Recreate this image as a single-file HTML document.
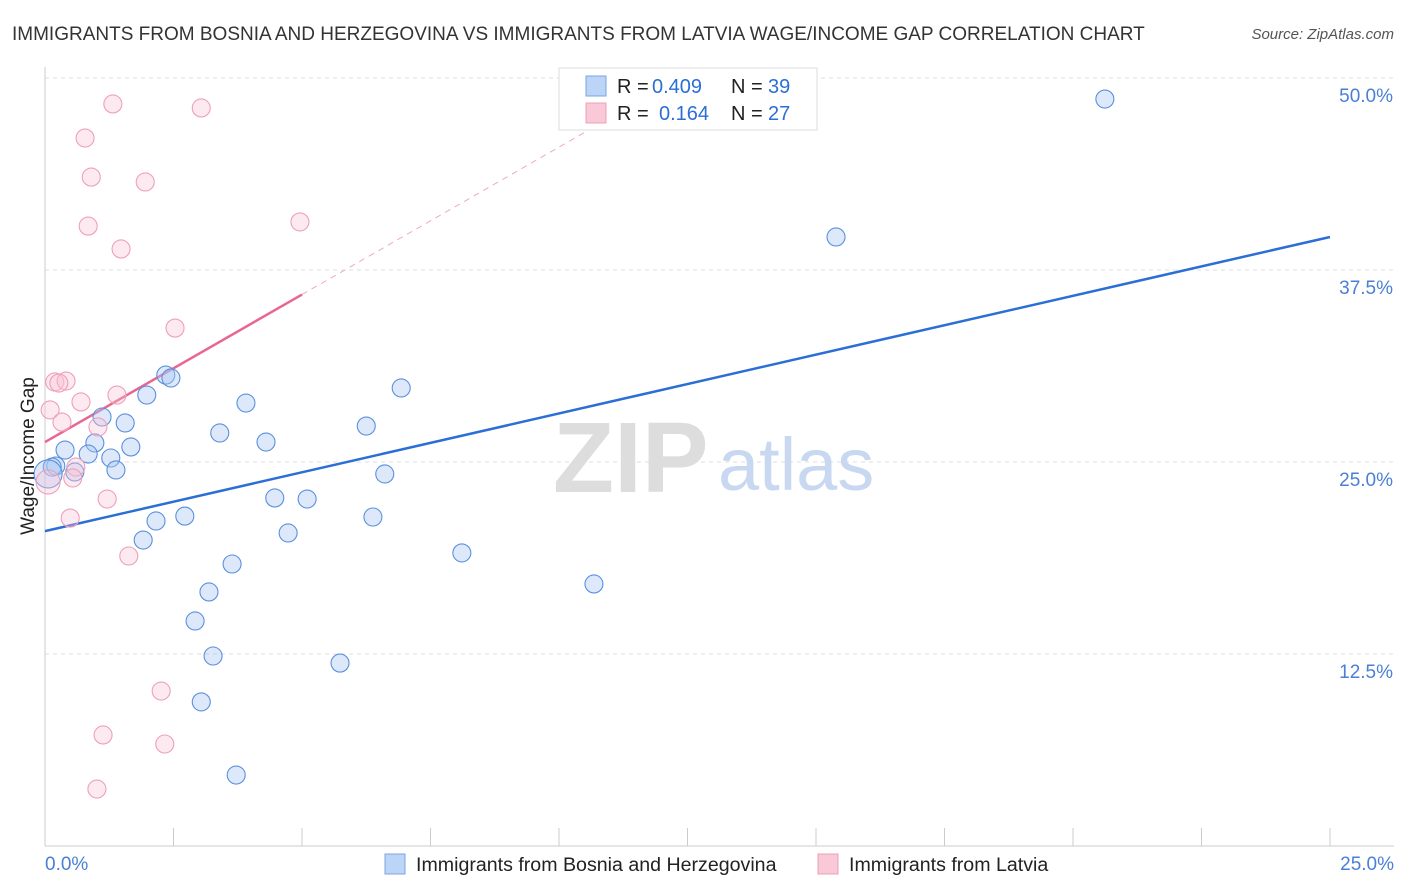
<!DOCTYPE html>
<html><head><meta charset="utf-8"><style>
body{margin:0;background:#fff;font-family:"Liberation Sans",sans-serif;overflow:hidden;}
svg{display:block;}
svg text{font-family:"Liberation Sans",sans-serif;}
</style></head><body>
<svg width="1406" height="892" xmlns="http://www.w3.org/2000/svg">
<text x="12" y="40" font-size="19" fill="#333">IMMIGRANTS FROM BOSNIA AND HERZEGOVINA VS IMMIGRANTS FROM LATVIA WAGE/INCOME GAP CORRELATION CHART</text>
<text x="1394" y="39" font-size="15" fill="#555" font-style="italic" text-anchor="end">Source: ZipAtlas.com</text>
<g id="grid"></g>
<g><text x="553" y="492" font-size="100" font-family="Liberation Serif" fill="#ddd" font-weight="bold">ZIP</text><text x="718" y="490" font-size="74" fill="#c8d8f0">atlas</text></g>
<g id="marks"></g>
<text transform="translate(34,456) rotate(-90)" font-size="19" fill="#222" text-anchor="middle">Wage/Income Gap</text>
<text x="45" y="870" font-size="19" fill="#4a7fd6">0.0%</text>
<text x="1394" y="870" font-size="19" fill="#4a7fd6" text-anchor="end">25.0%</text>
<g>
<rect x="559" y="68" width="258" height="62" fill="#fff" stroke="#ddd"/>
<rect x="586" y="76" width="20" height="20" fill="#bcd4f5" stroke="#7aa5e6"/>
<rect x="586" y="103" width="20" height="20" fill="#f9c9d8" stroke="#eea0b8"/>
<text x="617" y="93" font-size="20" fill="#222">R =</text>
<text x="652" y="93" font-size="20" fill="#2b6fd6">0.409</text>
<text x="731" y="93" font-size="20" fill="#222">N =</text>
<text x="768" y="93" font-size="20" fill="#2b6fd6">39</text>
<text x="617" y="120" font-size="20" fill="#222">R =</text>
<text x="659" y="120" font-size="20" fill="#2b6fd6">0.164</text>
<text x="731" y="120" font-size="20" fill="#222">N =</text>
<text x="768" y="120" font-size="20" fill="#2b6fd6">27</text>
</g>
<g>
<rect x="385" y="854" width="20" height="20" fill="#bcd4f5" stroke="#7aa5e6"/>
<text x="416" y="871" font-size="19.6" fill="#222">Immigrants from Bosnia and Herzegovina</text>
<rect x="818" y="854" width="20" height="20" fill="#f9c9d8" stroke="#eea0b8"/>
<text x="849" y="871" font-size="19.6" fill="#222">Immigrants from Latvia</text>
</g>
</svg>
<script>
const yTicks=[12.5,25,37.5,50];
const yTickLabels=["12.5%","25.0%","37.5%","50.0%"];
const xTicks=[0,2.5,5,7.5,10,12.5,15,17.5,20,22.5,25];
const blueX=[20.62,15.39,2.35,2.45,1.98,3.91,6.93,1.11,1.56,3.40,6.25,0.97,0.39,1.67,4.30,0.84,1.28,0.21,0.58,0.14,1.38,6.61,4.47,5.10,2.72,2.16,6.38,4.73,1.91,8.11,3.64,10.68,3.19,2.92,3.27,5.74,3.04,3.72,0.06];
const blueY=[48.63,39.65,30.66,30.47,29.36,28.84,29.82,27.93,27.54,26.89,27.34,26.24,25.78,25.98,26.30,25.52,25.26,24.74,24.35,24.67,24.48,24.22,22.66,22.59,21.48,21.16,21.42,20.38,19.92,19.08,18.36,17.06,16.54,14.65,12.37,11.91,9.38,4.62,24.22];
const pinkX=[1.32,3.04,0.78,0.9,1.95,0.84,4.96,1.48,2.53,0.19,0.41,0.27,1.4,0.7,0.1,0.33,1.03,0.6,0.54,0.06,1.21,0.49,1.63,2.26,1.13,2.33,1.01];
const pinkY=[48.31,48.05,46.09,43.55,43.23,40.36,40.63,38.87,33.72,30.21,30.27,30.14,29.36,28.91,28.39,27.6,27.28,24.67,23.96,23.7,22.59,21.35,18.88,10.09,7.23,6.64,3.71];
const blueFit=[20.5,0.766];
const pinkFit=[26.3,1.92];
const X=v=>45+v*51.4, Y=v=>846-v*15.36;
const NS="http://www.w3.org/2000/svg";
function mk(t,a,p){const e=document.createElementNS(NS,t);for(const k in a)e.setAttribute(k,a[k]);p.appendChild(e);return e;}
const grid=document.getElementById('grid'), marks=document.getElementById('marks');
mk('line',{x1:45,y1:67,x2:45,y2:846,stroke:'#ccc'},grid);
mk('line',{x1:45,y1:846,x2:1394,y2:846,stroke:'#ccc'},grid);
yTicks.forEach((t,i)=>{
 const l=mk('line',{x1:45,y1:Y(t),x2:1394,y2:Y(t),stroke:'#ddd','stroke-dasharray':'4,4'},grid);
 
 
 const tx=mk('text',{x:1393,y:Y(t)+24,'font-size':19,fill:'#4a7fd6','text-anchor':'end'},grid);
 tx.textContent=yTickLabels[i];
 
 
});
xTicks.forEach(t=>{
 const l=mk('line',{x1:X(t),y1:828,x2:X(t),y2:846,stroke:'#ccc'},grid);
 
 
});
let pl=mk('line',{x1:X(0),y1:Y(pinkFit[0]),x2:X(5),y2:Y(pinkFit[0]+5*pinkFit[1]),stroke:'#e8668f','stroke-width':2.5},marks);


let pd=mk('line',{x1:X(5),y1:Y(pinkFit[0]+5*pinkFit[1]),x2:X(11),y2:Y(pinkFit[0]+11*pinkFit[1]),stroke:'#eeaabf','stroke-width':1,'stroke-dasharray':'6,5'},marks);


let bl=mk('line',{x1:X(0),y1:Y(blueFit[0]),x2:X(25),y2:Y(blueFit[0]+25*blueFit[1]),stroke:'#2b6fd6','stroke-width':2.5},marks);


blueX.forEach((x,i)=>{
 const c=mk('circle',{cx:X(x),cy:Y(blueY[i]),r:i==38?14:9,fill:'rgba(170,200,242,0.4)',stroke:'#5a90dd','stroke-width':1.1},marks);
 
 
});
pinkX.forEach((x,i)=>{
 const c=mk('circle',{cx:X(x),cy:Y(pinkY[i]),r:i==19?12:9,fill:'rgba(248,195,212,0.35)',stroke:'#eea0b8','stroke-width':1.1},marks);
 
 
});
</script>
</body></html>
